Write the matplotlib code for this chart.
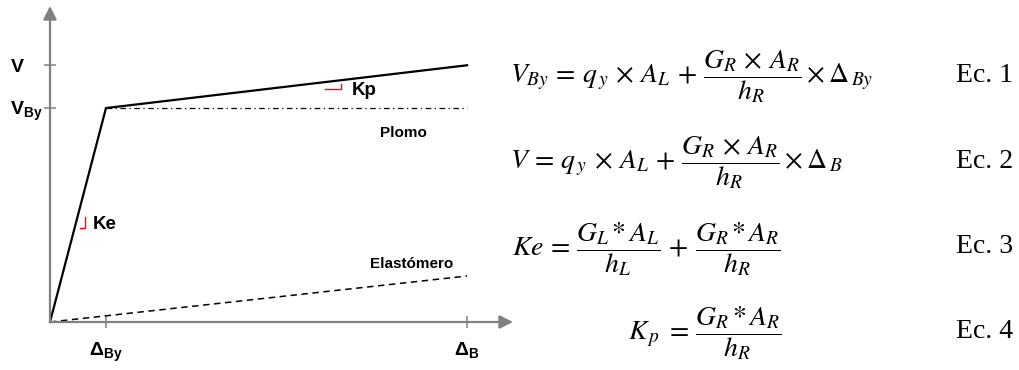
"""Bilinear force-displacement model of a lead-rubber isolator with its equations."""

import matplotlib
matplotlib.use("Agg")
import matplotlib.pyplot as plt
import numpy as np

plt.rcParams["mathtext.fontset"] = "custom"
plt.rcParams["mathtext.rm"] = "Liberation Sans"
plt.rcParams["mathtext.bf"] = "Liberation Sans:bold"
plt.rcParams["mathtext.it"] = "Liberation Sans:italic"

# displacements (normalised to the yield displacement)
disp = [0.0, 1.0, 7.45]
# total isolator force: elastic branch then post-yield branch
force = [0.0, 1.0, 1.20]
# lead core alone (yield plateau) and rubber alone
plomo_disp = [1.0, 7.45]
plomo_force = [1.0, 1.0]
elast_disp = [0.0, 7.45]
elast_force = [0.0, 0.215]

x_ticks = [disp[1], disp[2]]
x_labels = [r"$\mathbf{\Delta_{By}}$", r"$\mathbf{\Delta_{B}}$"]
y_ticks = [force[2], force[1]]
y_labels = [r"$\mathbf{V}$", r"$\mathbf{V_{By}}$"]

equations = [
    r"$V_{By} \,=\, q_{\,y} \,\times\, A_L \,+\, \dfrac{G_R \,\times\, A_R}{h_R} \times \Delta_{\,By}$",
    r"$V \,=\, q_{\,y} \,\times\, A_L \,+\, \dfrac{G_R \,\times\, A_R}{h_R} \times \Delta_{\,B}$",
    r"$Ke \,=\, \dfrac{G_L\,{*}\,A_L}{h_L} \,+\, \dfrac{G_R\,{*}\,A_R}{h_R}$",
    r"$K_{\,p} \;=\, \dfrac{G_R\,{*}\,A_R}{h_R}$",
]
eq_labels = ["Ec. 1", "Ec. 2", "Ec. 3", "Ec. 4"]

W, H = 1019, 370
GRAY = "#808080"

fig = plt.figure(figsize=(W / 100, H / 100), dpi=100)
ax = fig.add_axes([50 / W, 48 / H, 463 / W, 316 / H])
ax.set_xlim(0, 8.27)
ax.set_ylim(0, 1.477)
for s in ax.spines.values():
    s.set_visible(False)

# axes as grey arrows
arrow = dict(arrowstyle="-|>", color=GRAY, lw=1.6, mutation_scale=20,
             shrinkA=0, shrinkB=0)
ax.annotate("", xy=(8.27, 0), xytext=(0, 0), arrowprops=arrow, annotation_clip=False)
ax.annotate("", xy=(0, 1.477), xytext=(0, 0), arrowprops=arrow, annotation_clip=False)

ax.plot(disp, force, color="black", lw=1.6, solid_joinstyle="miter", clip_on=False)
ax.plot(plomo_disp, plomo_force, color="black", lw=0.9,
        linestyle=(0, (4.5, 2.8, 1, 2.8)), clip_on=False)
ax.plot(elast_disp, elast_force, color="black", lw=1.1,
        linestyle=(0, (4.2, 3.0)), clip_on=False)

ax.set_xticks(x_ticks, x_labels, fontsize=14)
ax.set_yticks(y_ticks, [])
ax.tick_params(direction="inout", length=8.6, width=1.1, color=GRAY, pad=9)
for v, lab in zip(y_ticks, y_labels):
    ax.annotate(lab, xy=(0, v), xytext=(-28.5, -5), textcoords="offset points",
                ha="left", va="baseline", fontsize=14, annotation_clip=False)

# slope markers for Ke and Kp
ke_x, ke_y = 0.625, 0.44
ax.plot([ke_x - 0.09, ke_x, ke_x], [ke_y, ke_y, ke_y + 0.05], color="red", lw=1.0)
ax.text(ke_x + 0.145, ke_y + 0.018, "Ke", fontsize=13.5, fontweight="bold",
        family="Liberation Sans", va="center", ha="left")
kp_x = 5.2
kp_y = np.interp(kp_x, disp, force) - 0.041
ax.plot([kp_x - 0.29, kp_x, kp_x], [kp_y, kp_y, kp_y + 0.023], color="red", lw=1.0)
ax.text(kp_x + 0.19, kp_y - 0.005, "Kp", fontsize=13.5, fontweight="bold",
        family="Liberation Sans", va="center", ha="left")

ax.text(6.32, 0.883, "Plomo", fontsize=11, fontweight="bold",
        family="Liberation Sans", ha="center", va="center")
ax.text(6.46, 0.271, "Elastómero", fontsize=11, fontweight="bold",
        family="Liberation Sans", ha="center", va="center")

# equations on the right
eq_x = [510, 510, 512, 628]
eq_base = [82, 168, 255, 339]
lab_base = [82, 168, 253, 338]
for x, yb, eq in zip(eq_x, eq_base, equations):
    fig.text(x / W, 1 - yb / H, eq, fontsize=20, math_fontfamily="stix",
             ha="left", va="baseline")
for yb, lab in zip(lab_base, eq_labels):
    fig.text(956 / W, 1 - yb / H, lab, fontsize=20, family="Liberation Serif",
             ha="left", va="baseline")

fig.savefig("out.png", dpi=100)
